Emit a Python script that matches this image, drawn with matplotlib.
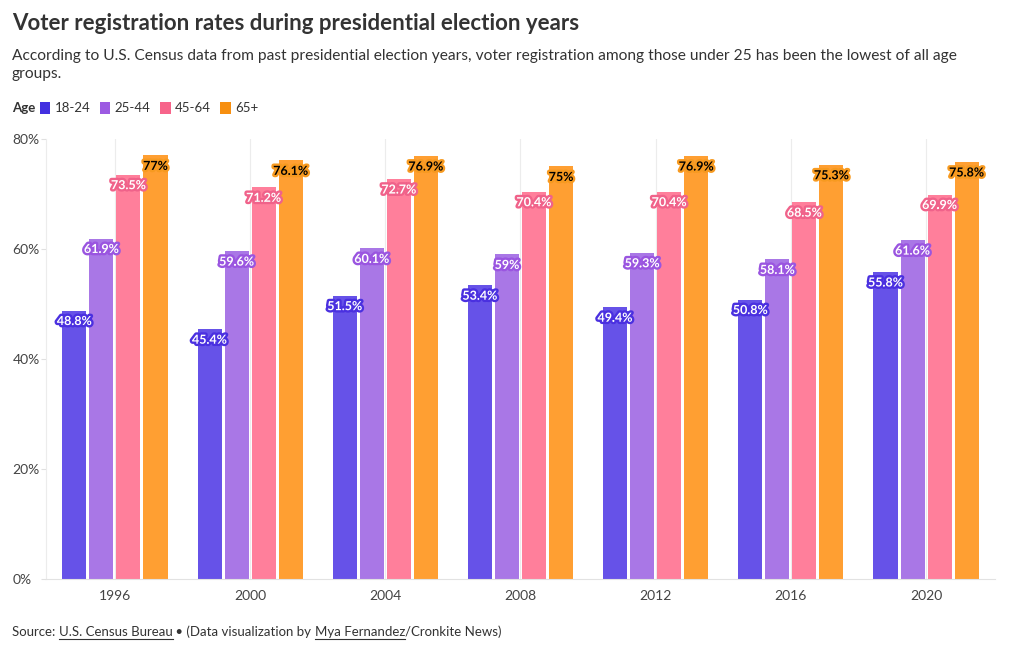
import matplotlib

matplotlib.use("Agg")
import matplotlib.pyplot as plt
import matplotlib.patheffects as pe
import numpy as np
from matplotlib.lines import Line2D
from matplotlib.patches import Patch

plt.rcParams["font.family"] = ["Lato", "DejaVu Sans"]

years = ["1996", "2000", "2004", "2008", "2012", "2016", "2020"]
ages = ["18-24", "25-44", "45-64", "65+"]
rate_18_24 = [48.8, 45.4, 51.5, 53.4, 49.4, 50.8, 55.8]
rate_25_44 = [61.9, 59.6, 60.1, 59.0, 59.3, 58.1, 61.6]
rate_45_64 = [73.5, 71.2, 72.7, 70.4, 70.4, 68.5, 69.9]
rate_65_up = [77.0, 76.1, 76.9, 75.0, 76.9, 75.3, 75.8]
series = [rate_18_24, rate_25_44, rate_45_64, rate_65_up]

BAR_COLORS = ["#6652e8", "#a977e6", "#ff7f9b", "#ff9f32"]
LEGEND_COLORS = ["#4330e0", "#9c5be2", "#f7648a", "#f78f10"]
LABEL_STROKE = ["#4a30e0", "#9a55e0", "#f0628a", "#f79a20"]
LABEL_TEXT = ["white", "white", "white", "black"]
TEXT = "#333333"

W, H = 1020, 650
fig = plt.figure(figsize=(W / 100, H / 100), dpi=100)
fig.patch.set_facecolor("white")
ax = fig.add_axes([46 / W, 1 - 579 / H, (995 - 46) / W, (579 - 139) / H])

x = np.arange(len(years))
pitch, width = 0.2, 0.178
for k, vals in enumerate(series):
    xs = x + (k - 1.5) * pitch
    ax.bar(xs, vals, width=width, color=BAR_COLORS[k], zorder=2)
    for xi, v in zip(xs, vals):
        ax.annotate(f"{v:g}%", (xi, v), xytext=(0, -7.5), textcoords="offset points",
                    ha="center", va="center", fontsize=9, fontweight="bold",
                    color=LABEL_TEXT[k], zorder=4,
                    path_effects=[pe.withStroke(linewidth=3.4, foreground=LABEL_STROKE[k])])

ax.set_xlim(-0.51, len(years) - 0.49)
ax.set_ylim(0, 80)
ax.set_yticks([0, 20, 40, 60, 80])
ax.set_yticklabels([f"{t}%" for t in [0, 20, 40, 60, 80]], ha="left")
ax.tick_params(axis="y", length=3.6, color="#e0e0e0", pad=20.5, labelsize=10, labelcolor="#444444")
ax.set_xticks(x)
ax.set_xticklabels(years)
ax.tick_params(axis="x", length=0, pad=8, labelsize=10, labelcolor="#444444")
ax.grid(axis="x", color="#ececec", linewidth=0.8, zorder=0)
for s in ["top", "right"]:
    ax.spines[s].set_visible(False)
ax.spines["left"].set_color("#ececec")
ax.spines["bottom"].set_color("#e2e2e2")

fig.text(12 / W, 1 - 24 / H, "Voter registration rates during presidential election years",
         fontsize=16, fontweight="bold", color=TEXT, va="center", ha="left")
fig.text(12 / W, 1 - 65 / H,
         "According to U.S. Census data from past presidential election years, voter registration among those under 25 has been the lowest of all age\ngroups.",
         fontsize=11.2, color=TEXT, va="center", ha="left", linespacing=1.35)

fig.text(12 / W, 1 - 108 / H, "Age", fontsize=9.5, fontweight="bold", color=TEXT, va="center")
handles = [Patch(facecolor=c, edgecolor="none", label=a) for c, a in zip(LEGEND_COLORS, ages)]
fig.legend(handles=handles, loc="center left", bbox_to_anchor=(33 / W, 1 - 108 / H), ncol=4,
           frameon=False, fontsize=9.5, handlelength=0.8, handleheight=1.1,
           handletextpad=0.35, columnspacing=0.7, labelcolor=TEXT, borderpad=0)

# footer with underlined links
fig.canvas.draw()
renderer = fig.canvas.get_renderer()
pieces = [("Source: ", False), ("U.S. Census Bureau", True), (" • (Data visualization by ", False),
          ("Mya Fernandez", True), ("/Cronkite News)", False)]
xpos = 12
ypos = 1 - 632 / H
for txt, under in pieces:
    t = fig.text(xpos / W, ypos, txt, fontsize=9.5, color=TEXT, va="center", ha="left")
    bb = t.get_window_extent(renderer)
    if under:
        yline = (H - 639) / H
        fig.add_artist(Line2D([bb.x0 / W, bb.x1 / W], [yline, yline], color=TEXT, linewidth=0.8))
    xpos = bb.x1

fig.savefig("out.png", dpi=100, facecolor="white")
